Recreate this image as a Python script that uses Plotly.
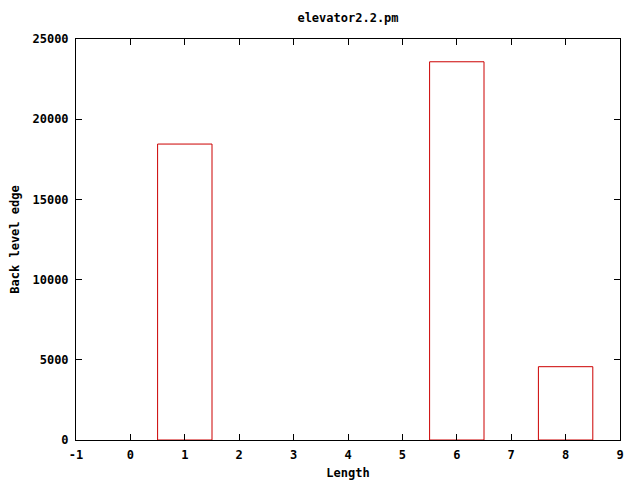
import plotly.graph_objects as go

lengths = [1, 6, 8]
values = [18450, 23580, 4570]
x_ticks = [-1, 0, 1, 2, 3, 4, 5, 6, 7, 8, 9]
y_ticks = [0, 5000, 10000, 15000, 20000, 25000]

font = dict(family="DejaVu Sans Mono", size=12, color="black")

fig = go.Figure()
fig.add_trace(go.Bar(
    x=lengths, y=values, width=1,
    marker=dict(color="rgba(0,0,0,0)", line=dict(color="#cc0000", width=1)),
))

fig.update_layout(
    width=640, height=480,
    margin=dict(l=68, r=28, t=31, b=48, autoexpand=False),
    paper_bgcolor="white", plot_bgcolor="white",
    showlegend=False,
    font=font,
    title=dict(text="<b>elevator2.2.pm</b>", x=(68 + 612) / 2 / 640, xanchor="center",
               y=1 - 10 / 480, yanchor="middle",
               font=dict(family="DejaVu Sans Mono", size=12)),
)
fig.update_xaxes(
    range=[-1, 9], tickvals=x_ticks, ticktext=[f"<b>{v}</b>" for v in x_ticks],
    showgrid=False, zeroline=False, showline=True, linecolor="black", linewidth=1,
    mirror="ticks", ticks="inside", ticklen=6, tickcolor="black",
    ticklabelstandoff=4, automargin=False,
    title=dict(text="<b>Length</b>", standoff=7, font=dict(family="DejaVu Sans Mono", size=12)),
)
fig.update_yaxes(
    range=[0, 25000], tickvals=y_ticks, ticktext=[f"<b>{v}</b>" for v in y_ticks],
    showgrid=False, zeroline=False, showline=True, linecolor="black", linewidth=1,
    mirror="ticks", ticks="inside", ticklen=6, tickcolor="black",
    ticklabelstandoff=4, automargin=False,
    title=dict(text="<b>Back level edge</b>", standoff=11, font=dict(family="DejaVu Sans Mono", size=12)),
)

fig.write_html("out.html")
